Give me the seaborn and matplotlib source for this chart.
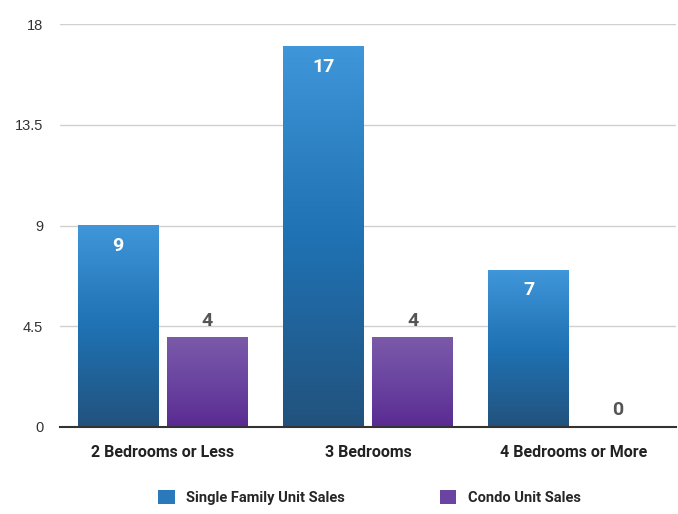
import numpy as np
import pandas as pd
import seaborn as sns
import matplotlib.pyplot as plt
from matplotlib.colors import LinearSegmentedColormap
from matplotlib.patches import Patch

categorias = ['2 Bedrooms or Less', '3 Bedrooms', '4 Bedrooms or More']
single_family = [9, 17, 7]
condo = [4, 4, 0]
series = ['Single Family Unit Sales', 'Condo Unit Sales']

datos = pd.DataFrame({
    'Categoria': categorias * 2,
    'Serie': [series[0]] * 3 + [series[1]] * 3,
    'Ventas': single_family + condo,
})

sns.set_style('white')
plt.rcParams['font.family'] = ['Liberation Sans', 'DejaVu Sans']

fig = plt.figure(figsize=(6.78, 5.14), dpi=100)
ax = fig.add_axes([60 / 678, 87 / 514, 616 / 678, 403 / 514])

sns.barplot(data=datos, x='Categoria', y='Ventas', hue='Serie', hue_order=series,
            width=0.87, gap=0.095, ax=ax, legend=False, zorder=2)

ax.set_xlim(-0.5, 2.5)
ax.set_ylim(0, 18)
ax.set_yticks([0, 4.5, 9, 13.5, 18])
ax.set_yticklabels(['0', '4.5', '9', '13.5', '18'], fontsize=10.5, color='#333333')
ax.grid(axis='y', color='#d0d0d0', linewidth=1, zorder=0)
ax.set_axisbelow(True)
for lado in ['top', 'right', 'left']:
    ax.spines[lado].set_visible(False)
ax.spines['bottom'].set_color('#333333')
ax.spines['bottom'].set_linewidth(1.5)
ax.spines['bottom'].set_zorder(5)
ax.tick_params(axis='both', length=0, pad=12)
ax.set_xlabel('')
ax.set_ylabel('')
ax.set_xticks(range(3))
ax.set_xticklabels(categorias, fontsize=11.5, fontweight='bold', family='Roboto', color='#222222')
ax.tick_params(axis='x', pad=13)

mapa_azul = LinearSegmentedColormap.from_list('azul', ['#3f96d8', '#1f72b4', '#22527d'])
mapa_morado = LinearSegmentedColormap.from_list('morado', ['#7b5aa9', '#6a44a0', '#5a2b92'])
gradiente = np.linspace(0, 1, 256).reshape(-1, 1)

barras = ax.patches
valores = single_family + condo
for i, barra in enumerate(barras):
    x, w, h = barra.get_x(), barra.get_width(), barra.get_height()
    mapa = mapa_azul if i < 3 else mapa_morado
    if h > 0:
        ax.imshow(gradiente, cmap=mapa, aspect='auto', extent=[x, x + w, 0, h],
                  origin='upper', zorder=3)
    barra.set_alpha(0)
    centro = x + w / 2
    v = valores[i]
    if i < 3:
        ax.text(centro, v - 0.9, str(v), ha='center', va='center', color='white',
                fontsize=14, fontweight='bold', family='Roboto', zorder=4)
    else:
        ax.text(centro, v + 0.75, str(v), ha='center', va='center', color='#555555',
                fontsize=14, fontweight='bold', family='Roboto', zorder=4)

ax.set_xlim(-0.5, 2.5)
ax.set_ylim(0, 18)

manijas = [Patch(facecolor='#2a79bb', edgecolor='none'),
           Patch(facecolor='#6a44a0', edgecolor='none')]
fig.legend(manijas, series, loc='center', bbox_to_anchor=(0.545, 0.033), ncol=2,
           frameon=False, handlelength=1.1, handleheight=1.1, columnspacing=6.5,
           prop={'family': 'Roboto', 'weight': 'bold', 'size': 10.5})

plt.savefig('out.png', dpi=100)
